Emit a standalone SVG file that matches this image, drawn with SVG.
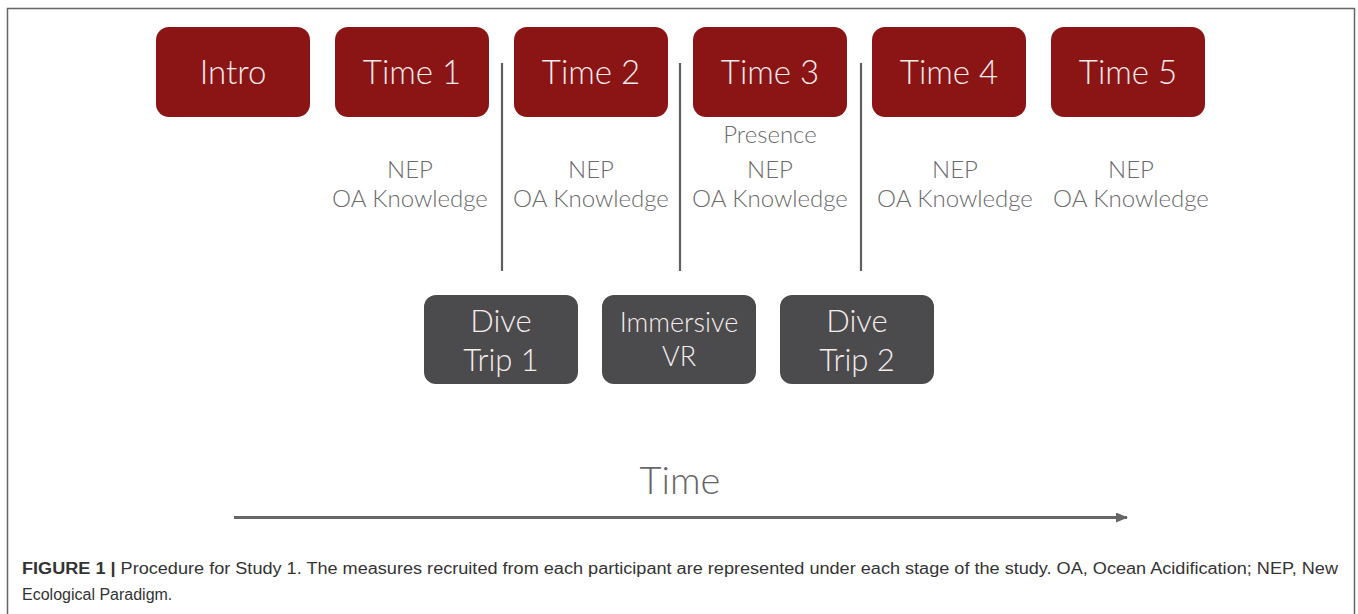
<svg xmlns="http://www.w3.org/2000/svg" width="1358" height="614" viewBox="0 0 1358 614">
<style>
.red{fill:#8b1515}
.dark{fill:#4b4b4d}
.bt{font-family:Lato,"Open Sans","Liberation Sans",sans-serif;font-weight:300;fill:#f6ecec;text-anchor:middle}
.lab{font-family:Lato,"Open Sans","Liberation Sans",sans-serif;font-weight:300;fill:#6a6a6a;text-anchor:middle;font-size:24px}
.div{stroke:#5c6262;stroke-width:2.2}
.cap{font-family:"Liberation Sans",Arial,sans-serif;font-size:16px;fill:#333}
</style>
<defs>
<marker id="ah" markerWidth="12" markerHeight="10" refX="11" refY="5" orient="auto" markerUnits="userSpaceOnUse">
<path d="M0,0 L12,5 L0,10 Z" fill="#666"/>
</marker>
</defs>
<rect width="1358" height="614" fill="#fff"/>
<path d="M7.5,614 V8.5 H1354.5 V614" fill="none" stroke="#666" stroke-width="1.5"/>

<g id="intro"><rect class="red" x="156" y="27" width="154" height="90" rx="13"/><text class="bt" x="233" y="84" font-size="33">Intro</text></g>
<g id="time1"><rect class="red" x="335" y="27" width="154" height="90" rx="13"/><text class="bt" x="412" y="84" font-size="33">Time 1</text>
<text class="lab" x="410" y="178">NEP</text><text class="lab" x="410" y="207">OA Knowledge</text></g>
<g id="time2"><rect class="red" x="514" y="27" width="154" height="90" rx="13"/><text class="bt" x="591" y="84" font-size="33">Time 2</text>
<text class="lab" x="591" y="178">NEP</text><text class="lab" x="591" y="207">OA Knowledge</text></g>
<g id="time3"><rect class="red" x="693" y="27" width="154" height="90" rx="13"/><text class="bt" x="770" y="84" font-size="33">Time 3</text>
<text class="lab" x="770" y="143">Presence</text><text class="lab" x="770" y="178">NEP</text><text class="lab" x="770" y="207">OA Knowledge</text></g>
<g id="time4"><rect class="red" x="872" y="27" width="154" height="90" rx="13"/><text class="bt" x="949" y="84" font-size="33">Time 4</text>
<text class="lab" x="955" y="178">NEP</text><text class="lab" x="955" y="207">OA Knowledge</text></g>
<g id="time5"><rect class="red" x="1051" y="27" width="154" height="90" rx="13"/><text class="bt" x="1128" y="84" font-size="33">Time 5</text>
<text class="lab" x="1131" y="178">NEP</text><text class="lab" x="1131" y="207">OA Knowledge</text></g>

<g id="dive1"><rect class="dark" x="424" y="295" width="154" height="89" rx="12"/><text class="bt" x="501" y="332" font-size="31">Dive</text><text class="bt" x="501" y="371" font-size="31">Trip 1</text></g>
<g id="vr"><rect class="dark" x="602" y="295" width="154" height="89" rx="12"/><text class="bt" x="679" y="332" font-size="27">Immersive</text><text class="bt" x="679" y="366" font-size="27">VR</text></g>
<g id="dive2"><rect class="dark" x="780" y="295" width="154" height="89" rx="12"/><text class="bt" x="857" y="332" font-size="31">Dive</text><text class="bt" x="857" y="371" font-size="31">Trip 2</text></g>

<g id="connectors">
<line class="div" x1="502" y1="63" x2="502" y2="271"/>
<line class="div" x1="680" y1="63" x2="680" y2="271"/>
<line class="div" x1="861" y1="63" x2="861" y2="271"/>
<line x1="234" y1="517.5" x2="1127" y2="517.5" stroke="#666" stroke-width="3" marker-end="url(#ah)"/>
</g>
<text x="680" y="494" font-family="Lato,'Open Sans','Liberation Sans',sans-serif" font-weight="300" font-size="38" fill="#666" text-anchor="middle">Time</text>

<text class="cap" x="22" y="574" textLength="1316" lengthAdjust="spacingAndGlyphs"><tspan font-weight="bold">FIGURE 1 |</tspan> Procedure for Study 1. The measures recruited from each participant are represented under each stage of the study. OA, Ocean Acidification; NEP, New</text>
<text class="cap" x="22" y="600">Ecological Paradigm.</text>
</svg>
